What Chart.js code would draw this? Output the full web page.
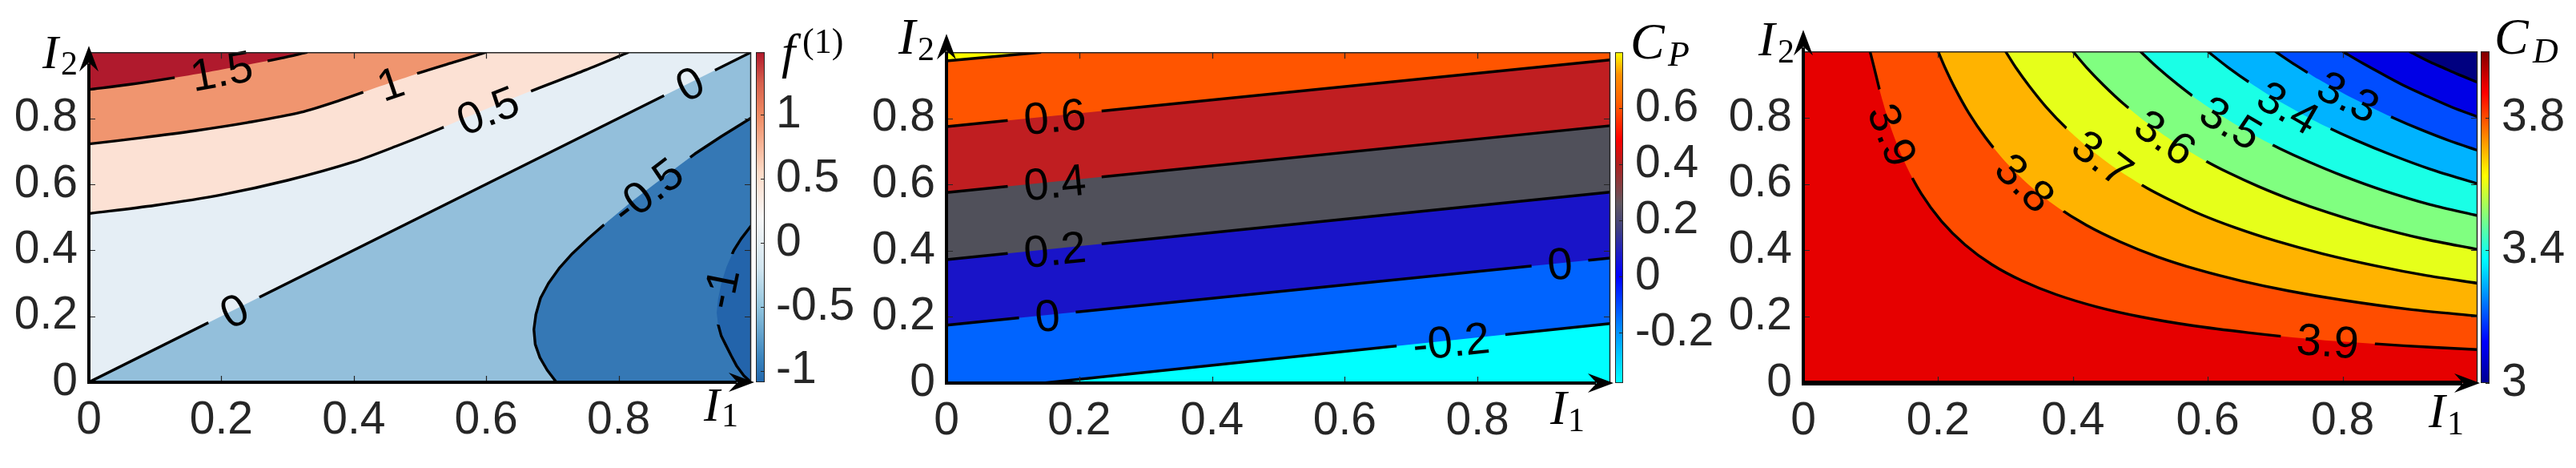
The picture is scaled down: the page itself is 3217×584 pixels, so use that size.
<!DOCTYPE html>
<html>
<head>
<meta charset="utf-8">
<script src="https://cdn.jsdelivr.net/npm/chart.js@4.4.1/dist/chart.umd.min.js"></script>
<style>
  html, body { margin:0; padding:0; background:#ffffff; }
  body { width:3217px; height:584px; position:relative; overflow:hidden; }
  canvas { position:absolute; top:0; }
</style>
</head>
<body>
<canvas id="p1" width="1090" height="584" style="left:0px"></canvas>
<canvas id="p2" width="1085" height="584" style="left:1065px"></canvas>
<canvas id="p3" width="1077" height="584" style="left:2140px"></canvas>
<script>
// ================= DATA =================
const axisTickValues = [0, 0.2, 0.4, 0.6, 0.8];
const axisTickLabels = ['0', '0.2', '0.4', '0.6', '0.8'];

// ---- Panel 1 : f^(1) contour lines, points [I1, I2]
const f1Line15 = [[0,0.887],[0.06,0.902],[0.12,0.920],[0.18,0.940],[0.24,0.962],[0.29,0.982],[0.33,1.0]];
const f1Line10 = [[0,0.722],[0.08,0.741],[0.16,0.762],[0.24,0.787],[0.32,0.818],[0.38,0.855],[0.44,0.897],[0.50,0.938],[0.55,0.969],[0.60,1.0]];
const f1Line05 = [[0,0.511],[0.1,0.536],[0.2,0.568],[0.3,0.612],[0.4,0.668],[0.47,0.720],[0.53,0.768],[0.6,0.828],[0.675,0.888],[0.75,0.946],[0.815,1.0]];
const f1Line00 = [[0,0],[0.5,0.5],[1,1]];
const f1LineM05 = [[1,0.801],[0.955,0.745],[0.915,0.692],[0.87,0.625],[0.82,0.548],[0.785,0.49],[0.755,0.437],[0.73,0.39],[0.71,0.345],[0.694,0.30],[0.682,0.255],[0.675,0.205],[0.672,0.16],[0.674,0.115],[0.681,0.075],[0.692,0.037],[0.706,0]];
const f1LineM10 = [[1,0.474],[0.985,0.435],[0.974,0.40],[0.963,0.35],[0.955,0.30],[0.950,0.25],[0.948,0.21],[0.950,0.177],[0.955,0.14],[0.962,0.112],[0.970,0.08],[0.978,0.05],[0.989,0.02],[1,0]];
const f1LabelText = ['1.5','1','0.5','0','0','-0.5','-1'];
const f1LabelI1   = [0.200,0.455,0.602,0.219,0.907,0.842,0.953];
const f1LabelI2   = [0.946,0.907,0.826,0.219,0.907,0.582,0.285];
const f1CbarTicks  = [-1,-0.5,0,0.5,1];
const f1CbarLabels = ['-1','-0.5','0','0.5','1'];
const f1CbarRange  = [-1.09, 1.49];

// ---- Panel 2 : C_P contour lines
const cpLine08  = [[0,0.974],[0.1425,1.0]];
const cpLine06  = [[0,0.775],[1,0.977]];
const cpLine04  = [[0,0.576],[1,0.778]];
const cpLine02  = [[0,0.373],[1,0.577]];
const cpLine00  = [[0,0.175],[1,0.378]];
const cpLineM02 = [[0.146,0],[1,0.180]];
const cpLabelText = ['0.6','0.4','0.2','0','0','-0.2'];
const cpLabelI1   = [0.163,0.163,0.163,0.152,0.924,0.760];
const cpLabelI2   = [0.808,0.609,0.406,0.206,0.363,0.129];
const cpCbarTicks  = [-0.2,0,0.2,0.4,0.6];
const cpCbarLabels = ['-0.2','0','0.2','0.4','0.6'];
const cpCbarRange  = [-0.38, 0.8];

// ---- Panel 3 : C_D contour lines
const cdLine39 = [[0.099,1.0],[0.105,0.952],[0.115,0.870],[0.13,0.769],[0.15,0.667],[0.175,0.571],[0.205,0.488],[0.24,0.417],[0.28,0.357],[0.325,0.308],[0.375,0.267],[0.435,0.230],[0.5,0.200],[0.575,0.174],[0.66,0.152],[0.75,0.133],[0.85,0.118],[0.93,0.108],[1.0,0.101]];
const cdLine38 = [[0.2,1.0],[0.21,0.952],[0.225,0.889],[0.245,0.816],[0.27,0.741],[0.3,0.667],[0.335,0.597],[0.375,0.533],[0.42,0.476],[0.47,0.426],[0.525,0.381],[0.585,0.342],[0.65,0.308],[0.72,0.278],[0.8,0.25],[0.9,0.222],[1.0,0.202]];
const cdLine37 = [[0.3,1.0],[0.315,0.952],[0.335,0.896],[0.36,0.833],[0.39,0.769],[0.425,0.706],[0.465,0.645],[0.51,0.588],[0.548,0.548],[0.59,0.508],[0.64,0.469],[0.7,0.429],[0.77,0.390],[0.85,0.353],[0.925,0.324],[1.0,0.301]];
const cdLine36 = [[0.4,1.0],[0.42,0.952],[0.445,0.899],[0.475,0.842],[0.51,0.784],[0.55,0.727],[0.595,0.672],[0.632,0.633],[0.675,0.593],[0.725,0.552],[0.78,0.513],[0.84,0.476],[0.92,0.435],[1.0,0.403]];
const cdLine35 = [[0.5,1.0],[0.525,0.952],[0.555,0.901],[0.59,0.847],[0.63,0.794],[0.67,0.746],[0.707,0.707],[0.75,0.667],[0.8,0.625],[0.86,0.581],[0.93,0.538],[1.0,0.505]];
const cdLine34 = [[0.6,1.0],[0.63,0.952],[0.665,0.902],[0.7,0.857],[0.737,0.814],[0.775,0.774],[0.82,0.732],[0.87,0.690],[0.93,0.645],[1.0,0.601]];
const cdLine33 = [[0.7,1.0],[0.73,0.959],[0.765,0.915],[0.8,0.875],[0.837,0.837],[0.875,0.8],[0.915,0.765],[0.958,0.731],[1.0,0.702]];
const cdLine32 = [[0.8,1.0],[0.83,0.964],[0.865,0.925],[0.894,0.894],[0.925,0.865],[0.962,0.832],[1.0,0.803]];
const cdLine31 = [[0.899,1.0],[0.93,0.968],[0.95,0.95],[0.97,0.932],[1.0,0.907]];
const cdLabelText = ['3.9','3.8','3.7','3.6','3.5','3.4','3.3','3.9'];
const cdLabelI1   = [0.1335,0.330,0.445,0.538,0.635,0.720,0.809,0.778];
const cdLabelI2   = [0.749,0.606,0.680,0.743,0.787,0.833,0.866,0.129];
const cdCbarTicks  = [3,3.4,3.8];
const cdCbarLabels = ['3','3.4','3.8'];
const cdCbarRange  = [3, 4];

// ================= STYLE =================
const f1Colors = ['#B01A2D','#F0956F','#FCE1D4','#E5EEF5','#93BFDB','#3578B5','#2364AB'];
const cpColors = ['#FFFF00','#FF5500','#C01E21','#50505A','#1914C8','#0064FF','#00FFFF'];
const cdColors = ['#000080','#0000E6','#004DFF','#00B3FF','#1AFFE6','#80FF80','#E6FF1A','#FFB300','#FF4D00','#E60000'];

const TICK_FONT = {family:'"Liberation Sans", Arial, sans-serif', size:57};
const LABEL_FONT_PX = 56;
const LABEL_FONT = LABEL_FONT_PX + 'px "Liberation Sans", Arial, sans-serif';
const SERIF = '"Liberation Serif", "Times New Roman", serif';

function pts(arr){ return arr.map(([x,y]) => ({x, y})); }

function addRotRect(ctx, cx, cy, w, h, a){
  const c = Math.cos(a), s = Math.sin(a);
  [[-w/2,-h/2],[w/2,-h/2],[w/2,h/2],[-w/2,h/2]].forEach(([u,v],i) => {
    const X = cx + u*c - v*s, Y = cy + u*s + v*c;
    if (i) ctx.lineTo(X,Y); else ctx.moveTo(X,Y);
  });
  ctx.closePath();
}

function arrowHead(ctx, tx, ty, ang){
  ctx.save(); ctx.translate(tx, ty); ctx.rotate(ang);
  ctx.beginPath(); ctx.moveTo(0,0); ctx.lineTo(-32,-12); ctx.lineTo(-21,0); ctx.lineTo(-32,12); ctx.closePath();
  ctx.fillStyle = '#000'; ctx.fill(); ctx.restore();
}

function labelGeom(chart, cfg){
  const xs = chart.scales.x, ys = chart.scales.y;
  return cfg.labels.text.map((t, k) => {
    const px = xs.getPixelForValue(cfg.labels.x[k]), py = ys.getPixelForValue(cfg.labels.y[k]);
    const line = cfg.labels.lines[k];
    let best = Infinity, ang = 0;
    for (let i = 0; i < line.length - 1; i++){
      const x1 = xs.getPixelForValue(line[i][0]), y1 = ys.getPixelForValue(line[i][1]);
      const x2 = xs.getPixelForValue(line[i+1][0]), y2 = ys.getPixelForValue(line[i+1][1]);
      const dx = x2-x1, dy = y2-y1, L2 = dx*dx + dy*dy || 1;
      let u = ((px-x1)*dx + (py-y1)*dy) / L2; u = Math.max(0, Math.min(1, u));
      const d = Math.hypot(x1+u*dx-px, y1+u*dy-py);
      if (d < best){ best = d; ang = Math.atan2(dy, dx); }
    }
    if (ang > Math.PI/2) ang -= Math.PI;
    if (ang <= -Math.PI/2) ang += Math.PI;
    return {t, px, py, ang};
  });
}

function makePanel(cfg){
  const canvas = document.getElementById(cfg.id);
  const L = cfg.left;
  const datasets = cfg.datasets.map(d => ({
    data: pts(d.pts),
    borderColor: d.stroke ? '#000000' : 'rgba(0,0,0,0)',
    borderWidth: 3.4,
    backgroundColor: d.color || 'rgba(0,0,0,0)',
    fill: d.fill || false,
    tension: d.tension || 0,
    pointRadius: 0,
    pointHoverRadius: 0,
    borderCapStyle: 'butt',
    borderJoinStyle: 'round'
  }));
  const deco = {
    id: 'deco_' + cfg.id,
    beforeDraw(chart){
      const {ctx, chartArea:a} = chart;
      ctx.save(); ctx.fillStyle = cfg.bg;
      ctx.fillRect(a.left, a.top, a.right - a.left, a.bottom - a.top);
      ctx.restore();
    },
    beforeDatasetDraw(chart){
      const ctx = chart.ctx; ctx.save();
      ctx.font = LABEL_FONT;
      ctx.beginPath(); ctx.rect(0, 0, chart.width, chart.height);
      labelGeom(chart, cfg).forEach(g => addRotRect(ctx, g.px, g.py, ctx.measureText(g.t).width + 40, 48, g.ang));
      ctx.clip('evenodd');
    },
    afterDatasetDraw(chart){ chart.ctx.restore(); },
    afterDatasetsDraw(chart){
      const ctx = chart.ctx; ctx.save();
      ctx.fillStyle = '#000'; ctx.font = LABEL_FONT;
      ctx.textAlign = 'center'; ctx.textBaseline = 'alphabetic';
      labelGeom(chart, cfg).forEach(g => {
        ctx.save(); ctx.translate(g.px, g.py); ctx.rotate(g.ang);
        ctx.fillText(g.t, 0, LABEL_FONT_PX * 0.358);
        ctx.restore();
      });
      ctx.restore();
    },
    afterDraw(chart){
      const {ctx, chartArea:a} = chart;
      const xs = chart.scales.x, ys = chart.scales.y, cs = chart.scales.y2;
      ctx.save();
      // thin top/right frame
      ctx.strokeStyle = '#262626'; ctx.lineWidth = 1.5;
      ctx.beginPath(); ctx.moveTo(a.left, a.top + 0.5); ctx.lineTo(a.right - 0.5, a.top + 0.5); ctx.lineTo(a.right - 0.5, a.bottom); ctx.stroke();
      // inside ticks on all four sides
      ctx.lineWidth = 1.2;
      axisTickValues.forEach(v => {
        if (v === 0) return;
        const px = Math.round(xs.getPixelForValue(v)) + 0.5;
        const py = Math.round(ys.getPixelForValue(v)) + 0.5;
        ctx.beginPath();
        ctx.moveTo(px, a.bottom); ctx.lineTo(px, a.bottom - 8);
        ctx.moveTo(px, a.top); ctx.lineTo(px, a.top + 8);
        ctx.moveTo(a.left, py); ctx.lineTo(a.left + 8, py);
        ctx.moveTo(a.right, py); ctx.lineTo(a.right - 8, py);
        ctx.stroke();
      });
      // thick axes with arrows
      ctx.strokeStyle = '#000';
      ctx.lineWidth = cfg.axisW;
      ctx.beginPath(); ctx.moveTo(a.left, a.bottom + cfg.bottomW/2); ctx.lineTo(a.left, a.top - cfg.yTip + 22); ctx.stroke();
      ctx.lineWidth = cfg.bottomW;
      ctx.beginPath(); ctx.moveTo(a.left - cfg.axisW/2, a.bottom); ctx.lineTo(a.right + cfg.xTip - 22, a.bottom); ctx.stroke();
      arrowHead(ctx, a.left, a.top - cfg.yTip, -Math.PI/2);
      arrowHead(ctx, a.right + cfg.xTip, a.bottom, 0);
      // colorbar
      const x0 = a.right + cfg.cbar.x0, x1 = a.right + cfg.cbar.x1;
      const yb = cs.getPixelForValue(cfg.cbar.min), yt = cs.getPixelForValue(cfg.cbar.max);
      const grad = ctx.createLinearGradient(0, yb, 0, yt);
      cfg.cbar.stops.forEach(([v, c]) => grad.addColorStop((v - cfg.cbar.min) / (cfg.cbar.max - cfg.cbar.min), c));
      ctx.fillStyle = grad; ctx.fillRect(x0, yt, x1 - x0, yb - yt);
      ctx.strokeStyle = '#262626'; ctx.lineWidth = 1;
      ctx.strokeRect(x0 + 0.5, yt + 0.5, x1 - x0 - 1, yb - yt - 1);
      cfg.cbar.ticks.forEach(v => {
        const py = Math.round(cs.getPixelForValue(v)) + 0.5;
        ctx.beginPath(); ctx.moveTo(x1, py); ctx.lineTo(x1 - 5, py); ctx.stroke();
      });
      // math labels
      ctx.fillStyle = '#000'; ctx.textAlign = 'left'; ctx.textBaseline = 'alphabetic';
      cfg.texts.forEach(t => { ctx.font = t.f; ctx.fillText(t.t, t.x - L, t.y); });
      ctx.restore();
    }
  };
  const tickCommon = {font: TICK_FONT, color: '#262626', maxRotation: 0, autoSkip: false};
  new Chart(canvas, {
    type: 'line',
    data: {datasets},
    options: {
      responsive: false, animation: false, devicePixelRatio: 1, events: [],
      layout: {padding: {top: cfg.top, left: 0, right: 0, bottom: 0}},
      plugins: {legend: {display: false}, tooltip: {enabled: false},
                filler: {propagate: false, drawTime: 'beforeDatasetsDraw'}},
      scales: {
        x: {type: 'linear', position: 'bottom', min: 0, max: 1,
            afterBuildTicks: s => { s.ticks = axisTickValues.map(v => ({value: v})); },
            ticks: Object.assign({}, tickCommon, {padding: 14, callback: (v, i) => axisTickLabels[i]}),
            grid: {display: false, drawTicks: false}, border: {display: false},
            afterFit: s => { s.height = cfg.xH; }},
        y: {type: 'linear', position: 'left', min: 0, max: 1,
            afterBuildTicks: s => { s.ticks = axisTickValues.map(v => ({value: v})); },
            ticks: Object.assign({}, tickCommon, {padding: 14, callback: (v, i) => axisTickLabels[i]}),
            grid: {display: false, drawTicks: false}, border: {display: false},
            afterFit: s => { s.width = cfg.yW; }},
        y2: {type: 'linear', position: 'right', min: cfg.cbar.min, max: cfg.cbar.max,
            afterBuildTicks: s => { s.ticks = cfg.cbar.ticks.map(v => ({value: v})); },
            ticks: Object.assign({}, tickCommon, {padding: cfg.cbar.pad, callback: (v, i) => cfg.cbar.labels[i]}),
            grid: {display: false, drawTicks: false}, border: {display: false},
            afterFit: s => { s.width = cfg.y2W; }}
      }
    },
    plugins: [deco]
  });
}

// ---------- Panel 1 ----------
makePanel({
  id: 'p1', left: 0, yW: 111, y2W: 152, top: 51, xH: 107,
  bg: f1Colors[4], axisW: 4, bottomW: 4, yTip: 8, xTip: 4,
  datasets: [
    {pts: f1Line15, fill: 'end', color: f1Colors[0], stroke: true, tension: 0.3},
    {pts: f1Line10, fill: 'end', color: f1Colors[1], stroke: true, tension: 0.3},
    {pts: f1Line05, fill: 'end', color: f1Colors[2], stroke: true, tension: 0.3},
    {pts: f1Line00, fill: 'end', color: f1Colors[3], stroke: true},
    {pts: f1LineM10, fill: 'shape', color: f1Colors[6], stroke: false},
    {pts: f1LineM05.concat([[1,0]]), fill: 'shape', color: f1Colors[5], stroke: false},
    {pts: f1LineM05, stroke: true},
    {pts: f1LineM10, stroke: true}
  ],
  labels: {text: f1LabelText, x: f1LabelI1, y: f1LabelI2,
           lines: [f1Line15, f1Line10, f1Line05, f1Line00, f1Line00, f1LineM05, f1LineM10]},
  cbar: {min: f1CbarRange[0], max: f1CbarRange[1], ticks: f1CbarTicks, labels: f1CbarLabels, x0: 6, x1: 17, pad: 31,
         stops: [[-1.09,'#2166AC'],[-0.9,'#3A84BE'],[-0.5,'#92C5DE'],[-0.2,'#D1E5F0'],[0.2,'#F7F7F7'],[0.55,'#FDDBC7'],[1.0,'#EF8A62'],[1.25,'#D6604D'],[1.49,'#B2182B']]},
  texts: [
    {t:'I', f:'italic 60px ' + SERIF, x:53, y:85},
    {t:'2', f:'42px ' + SERIF, x:76, y:93},
    {t:'I', f:'italic 60px ' + SERIF, x:879, y:525},
    {t:'1', f:'42px ' + SERIF, x:901, y:532},
    {t:'f', f:'italic 62px ' + SERIF, x:976, y:85},
    {t:'(1)', f:'44px ' + SERIF, x:1002, y:66}
  ]
});

// ---------- Panel 2 ----------
makePanel({
  id: 'p2', left: 1065, yW: 117, y2W: 139, top: 46, xH: 106,
  bg: cpColors[5], axisW: 4, bottomW: 4, yTip: 23, xTip: 4,
  datasets: [
    {pts: cpLine08, fill: 'end', color: cpColors[0], stroke: true},
    {pts: cpLine06, fill: 'end', color: cpColors[1], stroke: true},
    {pts: cpLine04, fill: 'end', color: cpColors[2], stroke: true},
    {pts: cpLine02, fill: 'end', color: cpColors[3], stroke: true},
    {pts: cpLine00, fill: 'end', color: cpColors[4], stroke: true},
    {pts: cpLineM02, fill: 'start', color: cpColors[6], stroke: true}
  ],
  labels: {text: cpLabelText, x: cpLabelI1, y: cpLabelI2,
           lines: [cpLine06, cpLine04, cpLine02, cpLine00, cpLine00, cpLineM02]},
  cbar: {min: cpCbarRange[0], max: cpCbarRange[1], ticks: cpCbarTicks, labels: cpCbarLabels, x0: 6, x1: 16, pad: 31,
         stops: [[-0.38,'#00FFFF'],[-0.28,'#00C8FF'],[-0.17,'#0080FF'],[0.0,'#0000FF'],[0.09,'#2020C0'],[0.17,'#404080'],[0.26,'#605860'],[0.40,'#B02020'],[0.49,'#FF0000'],[0.62,'#FF6000'],[0.72,'#FF9000'],[0.80,'#FFFF00']]},
  texts: [
    {t:'I', f:'italic 64px ' + SERIF, x:1122, y:67},
    {t:'2', f:'42px ' + SERIF, x:1146, y:75},
    {t:'I', f:'italic 62px ' + SERIF, x:1936, y:529},
    {t:'1', f:'42px ' + SERIF, x:1958, y:538},
    {t:'C', f:'italic 64px ' + SERIF, x:2036, y:73},
    {t:'P', f:'italic 44px ' + SERIF, x:2083, y:82}
  ]
});

// ---------- Panel 3 ----------
makePanel({
  id: 'p3', left: 2140, yW: 112, y2W: 123, top: 42, xH: 106,
  bg: cdColors[9], axisW: 4, bottomW: 6, yTip: 27, xTip: 3,
  datasets: [
    {pts: cdLine31, fill: 'end', color: cdColors[0], stroke: true, tension: 0.3},
    {pts: cdLine32, fill: 'end', color: cdColors[1], stroke: true, tension: 0.3},
    {pts: cdLine33, fill: 'end', color: cdColors[2], stroke: true, tension: 0.3},
    {pts: cdLine34, fill: 'end', color: cdColors[3], stroke: true, tension: 0.3},
    {pts: cdLine35, fill: 'end', color: cdColors[4], stroke: true, tension: 0.3},
    {pts: cdLine36, fill: 'end', color: cdColors[5], stroke: true, tension: 0.3},
    {pts: cdLine37, fill: 'end', color: cdColors[6], stroke: true, tension: 0.3},
    {pts: cdLine38, fill: 'end', color: cdColors[7], stroke: true, tension: 0.3},
    {pts: cdLine39, fill: 'end', color: cdColors[8], stroke: true, tension: 0.3}
  ],
  labels: {text: cdLabelText, x: cdLabelI1, y: cdLabelI2,
           lines: [cdLine39, cdLine38, cdLine37, cdLine36, cdLine35, cdLine34, cdLine33, cdLine39]},
  cbar: {min: cdCbarRange[0], max: cdCbarRange[1], ticks: cdCbarTicks, labels: cdCbarLabels, x0: 4, x1: 15, pad: 30,
         stops: [[3.0,'#00008F'],[3.125,'#0000FF'],[3.375,'#00FFFF'],[3.625,'#FFFF00'],[3.875,'#FF0000'],[4.0,'#800000']]},
  texts: [
    {t:'I', f:'italic 62px ' + SERIF, x:2196, y:69},
    {t:'2', f:'42px ' + SERIF, x:2220, y:78},
    {t:'I', f:'italic 62px ' + SERIF, x:3033, y:533},
    {t:'1', f:'42px ' + SERIF, x:3056, y:542},
    {t:'C', f:'italic 64px ' + SERIF, x:3115, y:67},
    {t:'D', f:'italic 44px ' + SERIF, x:3163, y:78}
  ]
});
</script>
</body>
</html>
